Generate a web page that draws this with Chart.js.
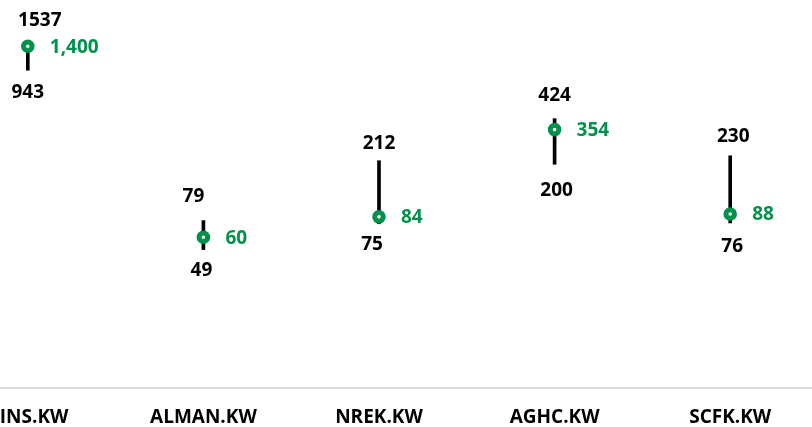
<!DOCTYPE html>
<html>
<head>
<meta charset="utf-8">
<script src="https://cdn.jsdelivr.net/npm/chart.js@4.4.0/dist/chart.umd.min.js"></script>
<style>
  html, body { margin: 0; padding: 0; background: #fff; overflow: hidden; }
  #wrap { position: absolute; left: -60px; top: 0; width: 878px; height: 427px; }
</style>
</head>
<body>
<div id="wrap"><canvas id="chart"></canvas></div>
<script>
// ---- data ----
const tickers = ['KINS.KW', 'ALMAN.KW', 'NREK.KW', 'AGHC.KW', 'SCFK.KW'];
const highs   = [1537, 79, 212, 424, 230];
const lows    = [943, 49, 75, 200, 76];
const current = [1400, 60, 84, 354, 88];

// small label nudges [dx, dy] so labels sit where the original put them
const highNudge = [[12, -20], [-10, -24], [0, -17], [0, -23], [3, -19]];
const lowNudge  = [[0, 22], [-2, 21], [-7, 21], [2, 26], [2, 24]];

const GREEN = '#00914A';
const FONT = '"Open Sans", Lato, sans-serif';

const rangeLabels = {
  id: 'rangeLabels',
  afterDatasetsDraw(chart) {
    const ctx = chart.ctx;
    const bars = chart.getDatasetMeta(0).data;
    const pts = chart.getDatasetMeta(1).data;
    ctx.save();
    ctx.font = 'bold 19px ' + FONT;
    ctx.textBaseline = 'middle';
    bars.forEach(function(b, i) {
      const top = Math.min(b.y, b.base), bot = Math.max(b.y, b.base);
      ctx.fillStyle = '#000';
      ctx.textAlign = 'center';
      ctx.fillText(String(highs[i]), b.x + highNudge[i][0], top + highNudge[i][1]);
      ctx.fillText(String(lows[i]), b.x + lowNudge[i][0], bot + lowNudge[i][1]);
      const p = pts[i];
      ctx.fillStyle = GREEN;
      ctx.textAlign = 'left';
      ctx.fillText(current[i].toLocaleString('en-US'), p.x + 22, p.y + 1);
    });
    ctx.restore();
  }
};

new Chart(document.getElementById('chart'), {
  data: {
    labels: tickers,
    datasets: [
      {
        type: 'bar',
        data: lows.map(function(l, i) { return [l, highs[i]]; }),
        backgroundColor: '#000',
        barThickness: 3,
        borderWidth: 0,
        order: 2
      },
      {
        type: 'line',
        data: current,
        showLine: false,
        pointStyle: 'circle',
        pointRadius: 4.3,
        pointBorderWidth: 5,
        pointBorderColor: GREEN,
        pointBackgroundColor: '#fff',
        order: 1
      }
    ]
  },
  options: {
    responsive: true,
    maintainAspectRatio: false,
    animation: false,
    layout: { padding: 0, autoPadding: false },
    plugins: { legend: { display: false }, tooltip: { enabled: false } },
    scales: {
      x: {
        offset: true,
        grid: { display: false, drawTicks: false },
        border: { display: true, color: '#d9d9d9', width: 2 },
        ticks: {
          autoSkip: false, maxRotation: 0, padding: 18, color: '#000',
          font: { family: FONT, size: 19, weight: 'bold' }
        },
        afterFit: function(s) { s.height = 39; }
      },
      y: {
        type: 'logarithmic',
        display: false,
        min: 5,
        max: 3000
      }
    }
  },
  plugins: [rangeLabels]
});
</script>
</body>
</html>
